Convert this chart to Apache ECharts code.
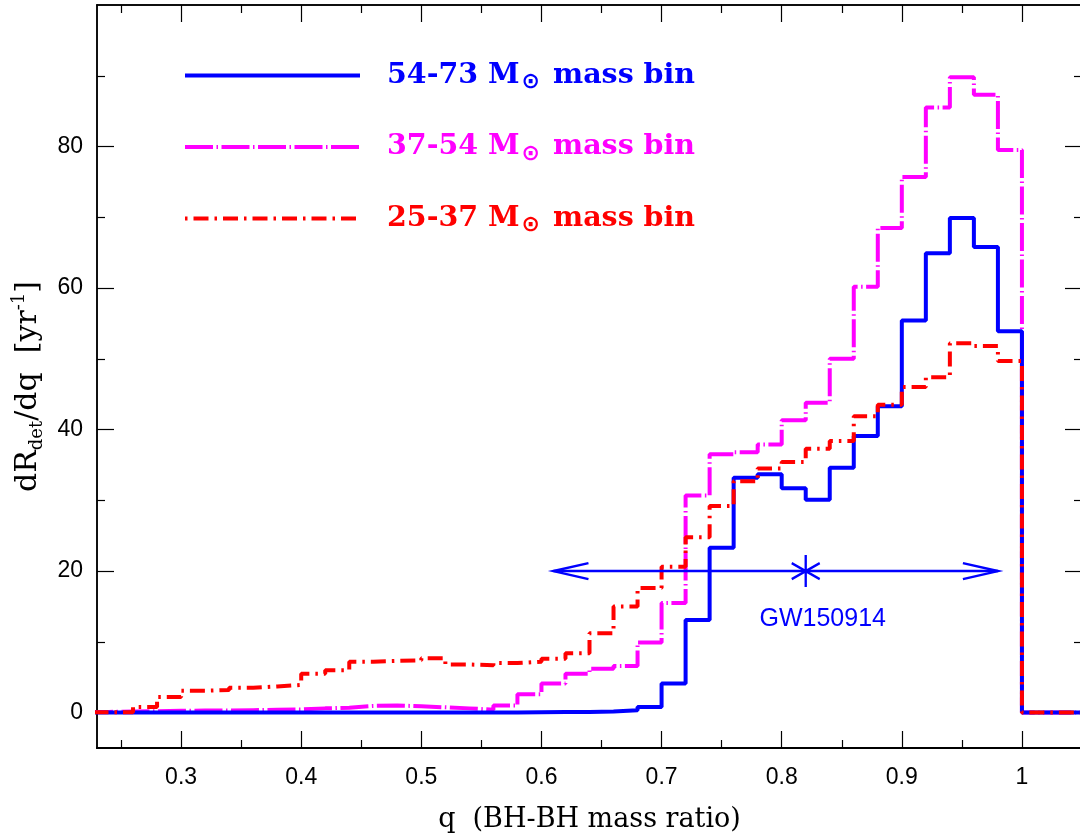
<!DOCTYPE html>
<html>
<head>
<meta charset="utf-8">
<title>dR/dq per mass bin</title>
<script src="https://cdn.jsdelivr.net/npm/echarts@6/dist/echarts.min.js"></script>
<style>
html, body { margin: 0; padding: 0; background: #fff; }
#chart { width: 1080px; height: 838px; }
</style>
</head>
<body>
<div id="chart"></div>
<script>
// left edges of the q bins (width 0.02), the last bin closes at 1.0
const qEdges = [0.22, 0.24, 0.26, 0.28, 0.30, 0.32, 0.34, 0.36, 0.38, 0.40,
  0.42, 0.44, 0.46, 0.48, 0.50, 0.52, 0.54, 0.56, 0.58, 0.60,
  0.62, 0.64, 0.66, 0.68, 0.70, 0.72, 0.74, 0.76, 0.78, 0.80,
  0.82, 0.84, 0.86, 0.88, 0.90, 0.92, 0.94, 0.96, 0.98]
// past q = 1 every histogram is zero
const qTail = [1.00, 1.05]
const tailRate = 0

// dR_det/dq [yr^-1] for each bin
const rate54to73 = [0, 0, 0, 0, 0, 0, 0, 0, 0, 0,
  0, 0, 0, 0, 0, 0, 0, 0.02, 0.05, 0.08,
  0.1, 0.15, 0.35, 0.8, 4.1, 13.1, 23.3, 33.2, 33.7, 31.7,
  30.1, 34.6, 39.1, 43.3, 55.4, 64.9, 69.9, 65.8, 53.9]
const rate37to54 = [0.1, 0.15, 0.2, 0.25, 0.3, 0.3, 0.35, 0.4, 0.45, 0.6,
  0.7, 0.95, 1.0, 0.9, 0.75, 0.6, 0.4, 1.0, 2.6, 4.1,
  5.5, 6.2, 6.6, 9.9, 15.5, 30.7, 36.5, 36.8, 37.9, 41.3,
  43.8, 50.0, 60.2, 68.5, 75.7, 85.5, 89.8, 87.3, 79.5]
const rate25to37 = [0.05, 0.05, 0.8, 2.2, 3.1, 3.2, 3.5, 3.7, 3.9, 5.5,
  6.0, 7.2, 7.3, 7.4, 7.7, 6.8, 6.7, 7.0, 7.2, 7.6,
  8.4, 11.2, 15.0, 17.6, 20.6, 24.8, 29.2, 32.7, 34.5, 35.4,
  37.3, 38.4, 41.9, 43.5, 46.0, 47.4, 52.2, 51.8, 49.7]

const seriesNames = ['54-73 M⊙ mass bin', '37-54 M⊙ mass bin', '25-37 M⊙ mass bin']

// GW150914: q estimate with its range, drawn at a fixed height
const gwRange = [0.61, 0.98]
const gwQ = 0.82
const gwRate = 20

// tick positions
const xMajor = [0.3, 0.4, 0.5, 0.6, 0.7, 0.8, 0.9, 1.0]
const xMinor = [0.25, 0.35, 0.45, 0.55, 0.65, 0.75, 0.85, 0.95]
const yMajor = [0, 20, 40, 60, 80]
const yMinor = [10, 30, 50, 70, 90]

function histPoints (rates) {
  let pts = qEdges.map((q, i) => [q, rates[i]])
  qTail.forEach(q => pts.push([q, tailRate]))
  return pts
}

function xAxisDef (pos, ticks, len, withLabel) {
  return {
    type: 'value',
    position: pos,
    min: 0.23,
    max: 1.05,
    axisLine: { show: true, onZero: false, lineStyle: { color: '#000', width: pos === 'bottom' ? 2 : 1.5 } },
    axisTick: { show: true, inside: true, length: len, customValues: ticks, lineStyle: { color: '#000', width: 1.2 } },
    axisLabel: withLabel ? {
      show: true,
      customValues: ticks,
      margin: 18,
      color: '#000',
      fontFamily: 'Liberation Sans',
      fontSize: 23,
      formatter: v => (Math.abs(v - 1) < 1e-9 ? '1' : v.toFixed(1))
    } : { show: false },
    splitLine: { show: false }
  }
}

function yAxisDef (pos, ticks, len, withLabel) {
  return {
    type: 'value',
    position: pos,
    min: -5,
    max: 100,
    axisLine: { show: true, onZero: false, lineStyle: { color: '#000', width: 1.5 } },
    axisTick: { show: true, inside: true, length: len, customValues: ticks, lineStyle: { color: '#000', width: 1.2 } },
    axisLabel: withLabel ? {
      show: true,
      customValues: ticks,
      margin: 14,
      color: '#000',
      fontFamily: 'Liberation Sans',
      fontSize: 23
    } : { show: false },
    splitLine: { show: false }
  }
}

let yMain = yAxisDef('left', yMajor, 17, true)
yMain.name = '{t|dR}{s|det}{t|/dq  [yr}{p|-1}{t|]}'
yMain.nameLocation = 'middle'
yMain.nameGap = 50
yMain.nameRotate = 90
yMain.nameTextStyle = {
  color: '#000',
  padding: [0, 0, 0, -20],
  rich: {
    t: { fontFamily: 'DejaVu Serif', fontSize: 30, lineHeight: 36, color: '#000' },
    s: { fontFamily: 'DejaVu Serif', fontSize: 18, lineHeight: 19, verticalAlign: 'bottom', color: '#000' },
    p: { fontFamily: 'DejaVu Serif', fontSize: 18, lineHeight: 19, verticalAlign: 'top', color: '#000' }
  }
}

let xMain = xAxisDef('bottom', xMajor, 17, true)
xMain.name = 'q  (BH-BH mass ratio)'
xMain.nameLocation = 'middle'
xMain.nameGap = 58
xMain.nameTextStyle = { color: '#000', fontFamily: 'DejaVu Serif', fontSize: 27 }

const legendColors = ['#0000ff', '#ff00ff', '#ff0000']
let legendRich = {}
legendColors.forEach((c, i) => {
  legendRich['a' + i] = { color: c, fontFamily: 'DejaVu Serif', fontWeight: 'bold', fontSize: 28.5, lineHeight: 36, padding: [0, 0, 0, 22] }
  legendRich['m' + i] = { color: c, fontFamily: 'DejaVu Serif', fontWeight: 'bold', fontSize: 28.5, lineHeight: 36 }
  legendRich['o' + i] = { color: c, fontFamily: 'DejaVu Sans', fontWeight: 'bold', fontSize: 22, lineHeight: 18, verticalAlign: 'bottom', padding: [0, 3, 0, 2] }
})

let chart = window.echarts.init(document.getElementById('chart'), null, { renderer: 'canvas' })

chart.setOption({
  backgroundColor: '#fff',
  animation: false,
  grid: { left: 97, right: -2, top: 5, bottom: 90, outerBoundsMode: 'none', containLabel: false },
  xAxis: [
    xMain,
    xAxisDef('bottom', xMinor, 8, false),
    xAxisDef('top', xMajor, 17, false),
    xAxisDef('top', xMinor, 8, false)
  ],
  yAxis: [
    yMain,
    yAxisDef('left', yMinor, 8, false),
    yAxisDef('right', yMajor, 17, false),
    yAxisDef('right', yMinor, 8, false)
  ],
  legend: {
    orient: 'vertical',
    left: 183,
    top: 61,
    padding: 0,
    itemWidth: 175,
    itemHeight: 14,
    itemGap: 39,
    selectedMode: false,
    lineStyle: { width: 4 },
    itemStyle: { opacity: 0 },
    data: [seriesNames[0], seriesNames[1], seriesNames[2]],
    formatter: name => {
      let i = seriesNames.indexOf(name)
      let parts = name.split('⊙')
      return '{a' + i + '|' + parts[0] + '}{o' + i + '|⊙}{m' + i + '|' + parts[1] + '}'
    },
    textStyle: { rich: legendRich }
  },
  series: [
    {
      name: seriesNames[1],
      type: 'line',
      step: 'end',
      showSymbol: false,
      symbol: 'none',
      data: histPoints(rate37to54),
      lineStyle: { color: '#ff00ff', width: 4, type: [28, 3.5, 1.5, 3.5], cap: 'butt' },
      itemStyle: { color: '#ff00ff' },
      z: 2
    },
    {
      name: seriesNames[0],
      type: 'line',
      step: 'end',
      showSymbol: false,
      symbol: 'none',
      data: histPoints(rate54to73),
      lineStyle: { color: '#0000ff', width: 4, type: 'solid' },
      itemStyle: { color: '#0000ff' },
      z: 3
    },
    {
      name: seriesNames[2],
      type: 'line',
      step: 'end',
      showSymbol: false,
      symbol: 'none',
      data: histPoints(rate25to37),
      lineStyle: { color: '#ff0000', width: 4, type: [15, 6, 2.5, 6], dashOffset: 21, cap: 'butt' },
      itemStyle: { color: '#ff0000' },
      z: 4
    },
    {
      // double arrow for the GW150914 range
      type: 'custom',
      silent: true,
      z: 5,
      data: [[gwRange[0], gwRange[1], gwRate]],
      encode: { x: [0, 1], y: 2 },
      renderItem: function (params, api) {
        let a = api.coord([api.value(0), api.value(2)])
        let b = api.coord([api.value(1), api.value(2)])
        let head = 35
        let half = 8
        let style = { stroke: '#0000ff', lineWidth: 2.5, fill: null }
        return {
          type: 'group',
          children: [
            { type: 'line', shape: { x1: a[0], y1: a[1], x2: b[0], y2: b[1] }, style: style },
            { type: 'polyline', shape: { points: [[a[0] + head, a[1] - half], a, [a[0] + head, a[1] + half]] }, style: style },
            { type: 'polyline', shape: { points: [[b[0] - head, b[1] - half], b, [b[0] - head, b[1] + half]] }, style: style }
          ]
        }
      }
    },
    {
      type: 'scatter',
      silent: true,
      z: 6,
      data: [[gwQ, gwRate]],
      symbol: 'path://M0,0L0,2M-0.866,0.5L0.866,1.5M-0.866,1.5L0.866,0.5',
      symbolSize: [28, 32],
      itemStyle: { color: 'rgba(0,0,0,0)', borderColor: '#0000ff', borderWidth: 2.5, opacity: 1 },
      label: {
        show: true,
        formatter: 'GW150914',
        position: 'bottom',
        distance: 18,
        offset: [17, 0],
        color: '#0000ff',
        fontFamily: 'Liberation Sans',
        fontSize: 25,
        lineHeight: 26
      }
    }
  ]
})
</script>
</body>
</html>
